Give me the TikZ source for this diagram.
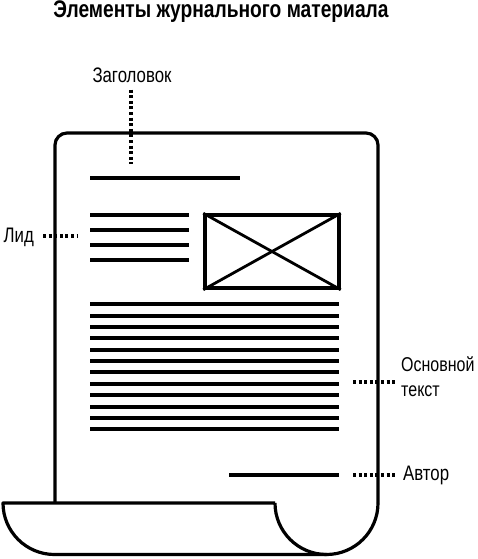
\documentclass[tikz,border=0pt]{standalone}
\usepackage{fontspec}
\newfontfamily\narrowsans{Liberation Sans}[FakeStretch=0.8]
\usetikzlibrary{positioning}

\begin{document}
\begin{tikzpicture}[
        x=1pt, y=-1pt,
        % --- STYLE CHUNG ---
        outline/.style={line width=3.2pt, line join=round},
        rule_line/.style={line width=4pt},
        lead_line/.style={line width=3.6pt},
        dot_link/.style={
            line width=3.1pt,
            dash pattern=on 3pt off 2.6pt
        },
        % Style nhãn
        label_text/.style={
            inner sep=0pt,
            font=\narrowsans\fontsize{21}{25}\selectfont
        },
        % Style ảnh
        photo_box/.style={
            rectangle,
            draw,
            line width=3.5pt,
            minimum width=134pt,
            minimum height=73pt,
            inner sep=0pt
        }
    ]
        \useasboundingbox (0,0) rectangle (478,559);

        % --- TIÊU ĐỀ ---
        \node[font=\narrowsans\bfseries\fontsize{24}{27}\selectfont] (title) at (221,12) {Элементы журнального материала};

        % --- TRANG GIẤY ---
        \draw[outline, rounded corners=12pt] (55,503) -- (55,133) -- (378,133) -- (378,503);
        \draw[outline] (378,503) arc[start angle=0, end angle=180, radius=51.5];
        \draw[outline] (275,503) -- (3,503) arc[start angle=180, end angle=90, radius=51.5] -- (326.5,554.5);

        % --- TIÊU ĐỀ BÀI ---
        \draw[rule_line] (90,178) -- (240,178);

        % --- LID ---
        \foreach \y in {215,230,245,260} {
            \draw[lead_line] (90,\y) -- (189,\y);
        }

        % --- ẢNH ---
        \node[photo_box] (photo) at (272,251.5) {};
        \draw[line width=2.8pt] (photo.north west) -- (photo.south east);
        \draw[line width=2.8pt] (photo.south west) -- (photo.north east);

        % --- VĂN BẢN CHÍNH ---
        \foreach \i in {0,...,11} {
            \pgfmathsetmacro{\y}{304.3+11.36*\i}
            \draw[rule_line] (90,\y) -- (339,\y);
        }

        % --- TÁC GIẢ ---
        \draw[line width=4.6pt] (229,475) -- (339,475);

        % --- NHÃN ---
        \node[label_text] (head) at (132,75) {Заголовок};
        \node[label_text, anchor=east] (lid) at (34,237) {Лид};
        \node[label_text, anchor=west, align=left, font=\narrowsans\fontsize{20}{25}\selectfont] (body) at (401,377) {Основной\\текст};
        \node[label_text, anchor=west] (author) at (403,475) {Автор};

        \coordinate (head_end) at (131,164);
        \coordinate (lid_end) at (78,236);
        \coordinate (body_end) at (353,382);
        \coordinate (author_end) at (353,475);

        % --- ĐƯỜNG CHẤM ---
        \draw[dot_link] (head.south -| head_end) ++(0,7) -- (head_end);
        \draw[dot_link] (lid.east) ++(9,-1) -- (lid_end);
        \draw[dot_link] (body_end) -- ([xshift=-6pt]body.west |- body_end);
        \draw[dot_link] (author_end) -- ([xshift=-8pt]author.west);

    \end{tikzpicture}
\end{document}
